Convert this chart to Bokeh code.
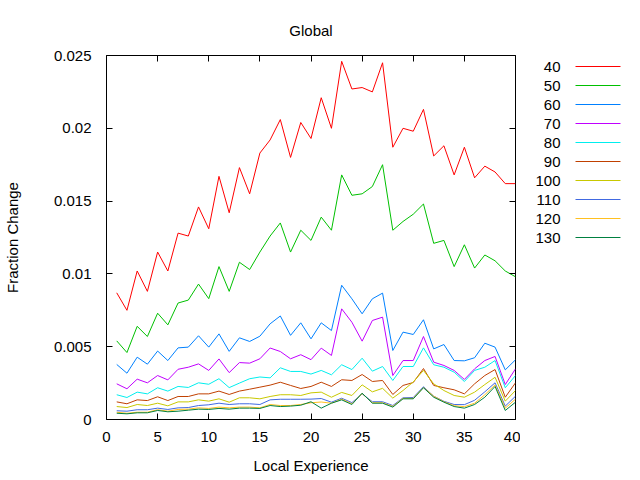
from bokeh.plotting import figure
from bokeh.models import Range1d, LinearAxis, FixedTicker, ColumnDataSource, CustomLabelingPolicy
from bokeh.layouts import row
from bokeh.embed import file_html
from bokeh.resources import INLINE
from bokeh.core.properties import value

FONT = "Liberation Sans"

experience = list(range(1, 41))

s40 = [0.0087, 0.0075, 0.0102, 0.0088, 0.0115, 0.0102, 0.0128, 0.0126, 0.0146, 0.0131,
       0.0167, 0.0142, 0.0173, 0.0155, 0.0183, 0.0192, 0.0206, 0.0180, 0.0204, 0.0193,
       0.0221, 0.0200, 0.0246, 0.0227, 0.0228, 0.0225, 0.0245, 0.0187, 0.0200, 0.0198,
       0.0213, 0.0181, 0.0188, 0.0168, 0.0187, 0.0166, 0.0174, 0.0170, 0.0162, 0.0162]
s50 = [0.0054, 0.0046, 0.0064, 0.0057, 0.0073, 0.0065, 0.0080, 0.0082, 0.0093, 0.0083,
       0.0105, 0.0088, 0.0108, 0.0103, 0.0115, 0.0126, 0.0135, 0.0115, 0.0130, 0.0123,
       0.0139, 0.0130, 0.0168, 0.0154, 0.0155, 0.0160, 0.0175, 0.0130, 0.0136, 0.0141,
       0.0148, 0.0121, 0.0123, 0.0105, 0.0120, 0.0104, 0.0113, 0.0109, 0.0102, 0.0098]
s60 = [0.00378, 0.00318, 0.00428, 0.00380, 0.00470, 0.00405, 0.00492, 0.00497, 0.00575, 0.00497,
       0.00588, 0.00468, 0.00561, 0.00536, 0.00572, 0.00657, 0.00711, 0.00578, 0.00664, 0.00554,
       0.00664, 0.00611, 0.00922, 0.00829, 0.00726, 0.00829, 0.00868, 0.00474, 0.00600, 0.00584,
       0.00685, 0.00485, 0.00515, 0.00405, 0.00403, 0.00424, 0.00524, 0.00497, 0.00341, 0.00410]
s70 = [0.00245, 0.00211, 0.00277, 0.00252, 0.00302, 0.00272, 0.00345, 0.00359, 0.00382, 0.00337,
       0.00416, 0.00322, 0.00391, 0.00387, 0.00417, 0.00491, 0.00467, 0.00417, 0.00445, 0.00411,
       0.00490, 0.00440, 0.00760, 0.00668, 0.00538, 0.00680, 0.00703, 0.00302, 0.00405, 0.00405,
       0.00570, 0.00394, 0.00371, 0.00337, 0.00275, 0.00348, 0.00405, 0.00433, 0.00240, 0.00348]
s80 = [0.00170, 0.00151, 0.00188, 0.00176, 0.00218, 0.00195, 0.00227, 0.00220, 0.00252, 0.00242,
       0.00280, 0.00219, 0.00250, 0.00280, 0.00292, 0.00286, 0.00355, 0.00330, 0.00330, 0.00312,
       0.00337, 0.00307, 0.00376, 0.00343, 0.00421, 0.00332, 0.00364, 0.00268, 0.00364, 0.00364,
       0.00492, 0.00376, 0.00359, 0.00325, 0.00261, 0.00337, 0.00359, 0.00405, 0.00218, 0.00302]
s90 = [0.00121, 0.00108, 0.00135, 0.00130, 0.00156, 0.00130, 0.00158, 0.00158, 0.00176, 0.00176,
       0.00195, 0.00172, 0.00195, 0.00208, 0.00222, 0.00236, 0.00256, 0.00234, 0.00213, 0.00227,
       0.00256, 0.00227, 0.00273, 0.00268, 0.00309, 0.00261, 0.00268, 0.00172, 0.00234, 0.00254,
       0.00350, 0.00234, 0.00218, 0.00204, 0.00176, 0.00245, 0.00302, 0.00343, 0.00153, 0.00252]
s100 = [0.00089, 0.00082, 0.00103, 0.00096, 0.00112, 0.00094, 0.00121, 0.00121, 0.00135, 0.00126,
        0.00142, 0.00119, 0.00149, 0.00149, 0.00142, 0.00158, 0.00170, 0.00170, 0.00165, 0.00183,
        0.00188, 0.00153, 0.00186, 0.00165, 0.00238, 0.00190, 0.00214, 0.00147, 0.00199, 0.00258,
        0.00337, 0.00245, 0.00199, 0.00165, 0.00153, 0.00188, 0.00240, 0.00290, 0.00126, 0.00199]
s110 = [0.00060, 0.00057, 0.00067, 0.00067, 0.00078, 0.00069, 0.00080, 0.00082, 0.00096, 0.00101,
        0.00112, 0.00103, 0.00108, 0.00108, 0.00103, 0.00135, 0.00139, 0.00139, 0.00139, 0.00140,
        0.00144, 0.00119, 0.00146, 0.00116, 0.00176, 0.00122, 0.00122, 0.00096, 0.00149, 0.00151,
        0.00225, 0.00160, 0.00125, 0.00103, 0.00102, 0.00132, 0.00190, 0.00252, 0.00092, 0.00160]
s120 = [0.00050, 0.00043, 0.00050, 0.00050, 0.00067, 0.00057, 0.00069, 0.00071, 0.00080, 0.00076,
        0.00085, 0.00080, 0.00085, 0.00085, 0.00080, 0.00103, 0.00096, 0.00096, 0.00103, 0.00115,
        0.00120, 0.00112, 0.00140, 0.00108, 0.00178, 0.00115, 0.00115, 0.00090, 0.00145, 0.00145,
        0.00220, 0.00160, 0.00122, 0.00095, 0.00088, 0.00112, 0.00170, 0.00238, 0.00078, 0.00140]
s130 = [0.00043, 0.00039, 0.00046, 0.00046, 0.00062, 0.00053, 0.00057, 0.00064, 0.00071, 0.00069,
        0.00076, 0.00071, 0.00078, 0.00078, 0.00076, 0.00096, 0.00089, 0.00092, 0.00098, 0.00122,
        0.00078, 0.00112, 0.00135, 0.00103, 0.00181, 0.00112, 0.00112, 0.00085, 0.00142, 0.00142,
        0.00218, 0.00153, 0.00119, 0.00089, 0.00078, 0.00103, 0.00153, 0.00227, 0.00062, 0.00119]

series_names = ["40", "50", "60", "70", "80", "90", "100", "110", "120", "130"]
series_values = [s40, s50, s60, s70, s80, s90, s100, s110, s120, s130]
series_colors = ["#ff0000", "#00c000", "#0080ff", "#c000ff", "#00eeee",
                 "#c04000", "#c8c800", "#4169e1", "#ffc020", "#008040"]

x_ticks = [0, 5, 10, 15, 20, 25, 30, 35, 40]
y_ticks = [0, 0.005, 0.01, 0.015, 0.02, 0.025]
y_tick_labels = ["0", "0.005", "0.01", "0.015", "0.02", "0.025"]

p = figure(width=520, height=480, output_backend="svg", toolbar_location=None,
           x_range=Range1d(0, 40), y_range=Range1d(0, 0.025),
           min_border_left=105, min_border_right=5, min_border_top=55, min_border_bottom=61,
           title="Global", x_axis_label="Local Experience", y_axis_label="Fraction Change")

p.background_fill_color = "white"
p.border_fill_color = "white"
p.outline_line_color = "black"
p.outline_line_width = 1
p.outline_line_alpha = 1.0
p.grid.visible = False

p.title.align = "center"
p.title.text_font = FONT
p.title.text_font_size = "15px"
p.title.text_font_style = "normal"
p.title.text_color = "black"
p.title.standoff = 33

# mirrored tick marks on the top and right edges, without labels
no_labels = CustomLabelingPolicy(code="return new Set()")
p.add_layout(LinearAxis(major_label_policy=no_labels), "above")
p.add_layout(LinearAxis(major_label_policy=no_labels), "right")

for ax in p.xaxis:
    ax.ticker = FixedTicker(ticks=x_ticks)
for ax in p.yaxis:
    ax.ticker = FixedTicker(ticks=y_ticks)
    ax.major_label_overrides = dict(zip(y_ticks, y_tick_labels))

for ax in p.axis:
    ax.axis_line_color = None
    ax.major_tick_in = 6
    ax.major_tick_out = 0
    ax.minor_tick_in = 0
    ax.minor_tick_out = 0
    ax.major_tick_line_color = "black"
    ax.major_label_text_font = FONT
    ax.major_label_text_font_size = "15px"
    ax.major_label_text_color = "black"
    ax.axis_label_text_font = FONT
    ax.axis_label_text_font_size = "15px"
    ax.axis_label_text_font_style = "normal"
    ax.axis_label_text_color = "black"

for ax in (p.above[0], p.right[0]):
    ax.major_label_text_font_size = "0px"
    ax.major_label_standoff = 0

p.below[0].major_label_standoff = 12
p.below[0].axis_label_standoff = 12
p.left[0].major_label_standoff = 15
p.left[0].axis_label_standoff = 30

for vals, color in zip(series_values, series_colors):
    p.line(experience, vals, line_color=color, line_width=1)

# key drawn to the right of the plot: label, then a line sample.
# Its frame shares the plot's vertical extent, so the range runs in pixels.
key = figure(width=120, height=480, output_backend="svg", toolbar_location=None,
             x_range=Range1d(0, 120), y_range=Range1d(419, 55),
             x_axis_type=None, y_axis_type=None,
             min_border_left=0, min_border_right=0, min_border_top=55, min_border_bottom=61)
key.outline_line_color = None
key.grid.visible = False
key.background_fill_color = "white"
key.border_fill_color = "white"

rows_y = [66 + 19 * i for i in range(len(series_names))]
key_src = ColumnDataSource(dict(
    name=series_names, color=series_colors, y=rows_y,
    tx=[40] * len(series_names), x0=[55] * len(series_names), x1=[100] * len(series_names)))
key.text(x="tx", y="y", text="name", source=key_src, text_align="right",
         text_baseline="middle", text_font=value(FONT), text_font_size="15px",
         text_color="black")
key.segment(x0="x0", y0="y", x1="x1", y1="y", line_color="color", line_width=1, source=key_src)

layout = row(p, key)
open("out.html", "w").write(file_html(layout, INLINE))
